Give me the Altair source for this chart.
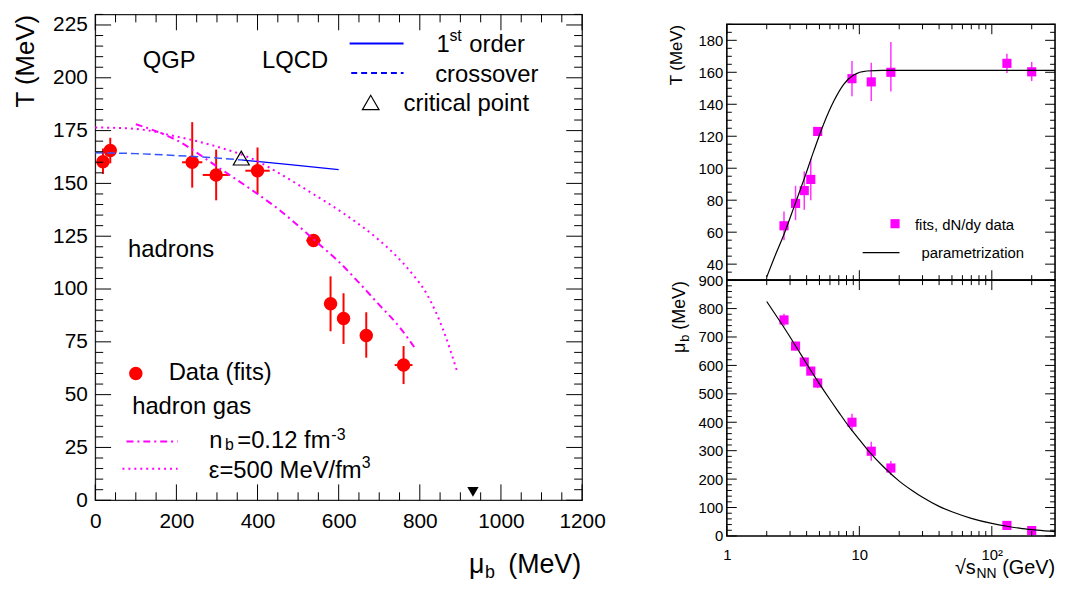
import altair as alt
import pandas as pd

FONT = "Liberation Sans"
RED, MAG, BLUE = "#ff0000", "#ff00ff", "#0000ff"

# ---------------- freeze-out fits ----------------
sqrt_s = [2.7, 3.3, 3.84, 4.3, 4.85, 8.8, 12.3, 17.3, 130, 200]
T_fit = [64, 78, 86, 93, 123, 156, 154, 160, 165.6, 160.3]
T_lo = [55, 67.5, 74, 80, 121, 145, 142, 148, 159.5, 154.5]
T_hi = [73, 89, 98, 106, 125, 167, 166, 179, 171.6, 166.5]
mu_fit = [760, 668, 612, 580, 538, 400, 298, 239, 37, 19]
mu_err = [22, 15, 12, 12, 18, 30, 33, 25, 6, 5]

# ---------------- LQCD ----------------
cross_mu = [0, 100, 200, 300, 360]
cross_T = [164.5, 164.1, 163.2, 162.0, 161.1]
first_mu = [360, 480, 600]
first_T = [161.1, 158.9, 156.5]
crit_mu = [360]
crit_T = [162]

# ---------------- hadron gas curves ----------------
nb_mu = [100, 200, 300, 400, 450, 500, 550, 600, 650, 700, 750, 790]
nb_T = [178, 170.5, 158, 145, 138, 130, 121.5, 113, 103, 92.5, 82, 71.5]
eps_mu = [0, 100, 200, 300, 400, 460, 533, 615, 697, 740, 778, 819, 859, 892]
eps_T = [176.5, 175.8, 172.2, 167.4, 160.5, 154, 145.5, 135.4, 123.6, 116, 108, 97, 80, 61]
mN_mu = [931]
mN_T = [4]

# ---------------- parametrizations (right panels) ----------------
parT_s = [2.0, 2.28, 2.71, 3.22, 3.82, 4.54, 5.4, 6.42, 7.62, 9.06, 11.4, 15, 30, 100, 300]
parT_T = [32, 44, 59, 76, 93, 111, 128, 142, 152.5, 158.3, 160.8, 161.2, 161.2, 161.2, 161.2]
parmu_s = [2.0, 2.5, 3.0, 3.5, 4.0, 5.0, 6.0, 7.0, 8.5, 10, 12, 15, 20, 25, 30, 40, 50, 70, 100, 130, 170, 220, 300]
parmu_mu = [825, 757, 700, 650, 606, 535, 480, 435, 380, 339, 294, 246, 193, 160, 136, 104, 85, 62, 44, 34, 26, 20.4, 15]

# ---------------- tick values ----------------
L_x_major = [0, 200, 400, 600, 800, 1000, 1200]
L_x_minor = [v for v in range(50, 1200, 50) if v % 200]
L_y_major = [0, 25, 50, 75, 100, 125, 150, 175, 200, 225]
L_y_minor = [v for v in range(5, 231, 5) if v % 25]
R_x_major = [1, 10, 100]
R_x_minor = [2, 3, 4, 5, 6, 7, 8, 9, 20, 30, 40, 50, 60, 70, 80, 90, 200]
RT_y_major = [40, 60, 80, 100, 120, 140, 160, 180]
RT_y_minor = [v for v in range(35, 191, 5) if v % 20]
RB_y_major = [0, 100, 200, 300, 400, 500, 600, 700, 800, 900]
RB_y_minor = [v for v in range(20, 900, 20) if v % 100]

# ---------------- annotation text (left panel) ----------------
ann_text = ["QGP", "LQCD", "hadrons", "1", "order", "crossover", "critical point",
            "Data (fits)", "hadron gas", "n", "=0.12 fm", "\u03b5=500 MeV/fm"]
ann_mu = [117, 411, 81, 841, 922, 838, 760, 181, 91, 281, 350, 280]
ann_T = [204.7, 204.4, 115, 212, 212, 197.9, 184.5, 57, 40.7, 24.6, 24.6, 10.6]
sub_text = ["st", "b", "-3", "3"]
sub_mu = [873, 320, 582, 657]
sub_T = [217.5, 23.6, 28.7, 15.3]

# ---------------- legend samples (left panel) ----------------
leg_solid_mu = [627, 760]
leg_solid_T = [216.2, 216.2]
leg_dash_mu = [631, 760]
leg_dash_T = [202.3, 202.3]
leg_tri_mu = [679]
leg_tri_T = [188.3]
leg_dot_mu = [100]
leg_dot_T = [60]
leg_nb_mu = [77, 203]
leg_nb_T = [27.8, 27.8]
leg_eps_mu = [67, 203]
leg_eps_T = [14.9, 14.9]

# right-panel legend
legR_sq_s = [18.6]
legR_sq_T = [65.3]
legR_line_s = [10.6, 20.1]
legR_line_T = [47.2, 47.2]
legR_text = ["fits, dN/dy data", "parametrization"]
legR_text_s = [26.3, 29.5]
legR_text_T = [64.7, 46.7]

fits = pd.DataFrame({
    "s": sqrt_s, "T": T_fit, "Tlo": T_lo, "Thi": T_hi, "mu": mu_fit,
    "mulo": [m - e for m, e in zip(mu_fit, mu_err)],
    "muhi": [m + e for m, e in zip(mu_fit, mu_err)],
})

# ---------------- geometry ----------------
WL, HL = 491, 490
WR, HR = 331, 258
GAP = 146  # from the left frame's right edge to the right frames' left edge


def df2(a, b):
    return pd.DataFrame({"a": a, "b": b})


class Panel:
    def __init__(self, xs, ys, ax, ay, W, H):
        self.xs, self.ys, self.ax, self.ay, self.W, self.H = xs, ys, ax, ay, W, H

    def X(self, f):
        return alt.X(f, type="quantitative", scale=self.xs, axis=self.ax)

    def Y(self, f):
        return alt.Y(f, type="quantitative", scale=self.ys, axis=self.ay)

    def xticks(self, vals, length, width=1.0):
        d = pd.DataFrame({"tv": vals})
        base = alt.Chart(d).mark_rule(color="black", strokeWidth=width)
        return [
            base.encode(x=self.X("tv"), y=alt.value(self.H), y2=alt.value(self.H - length)),
            base.encode(x=self.X("tv"), y=alt.value(0), y2=alt.value(length)),
        ]

    def yticks(self, vals, length, width=1.0):
        d = pd.DataFrame({"tv": vals})
        base = alt.Chart(d).mark_rule(color="black", strokeWidth=width)
        return [
            base.encode(y=self.Y("tv"), x=alt.value(0), x2=alt.value(length)),
            base.encode(y=self.Y("tv"), x=alt.value(self.W), x2=alt.value(self.W - length)),
        ]

    def line(self, a, b, color, width, dash=None, interp="monotone"):
        kw = dict(color=color, strokeWidth=width, interpolate=interp)
        if dash:
            kw["strokeDash"] = dash
        return alt.Chart(df2(a, b)).mark_line(**kw).encode(x=self.X("a"), y=self.Y("b"))

    def point(self, a, b, **kw):
        return alt.Chart(df2(a, b)).mark_point(opacity=1, **kw).encode(x=self.X("a"), y=self.Y("b"))

    def square(self, a, b, **kw):
        return alt.Chart(df2(a, b)).mark_square(opacity=1, **kw).encode(x=self.X("a"), y=self.Y("b"))

    def text(self, t, a, b, size, align="left", baseline="alphabetic", color="black"):
        d = pd.DataFrame({"t": t, "a": a, "b": b})
        return alt.Chart(d).mark_text(font=FONT, fontSize=size, align=align,
                                      baseline=baseline, color=color).encode(
            x=self.X("a"), y=self.Y("b"), text="t:N")


def ptext(t, px, py, size, align="left", angle=0):
    kw = dict(font=FONT, fontSize=size, align=align, baseline="alphabetic", color="black")
    if angle:
        kw["angle"] = angle
    return alt.Chart(pd.DataFrame({"t": [t]})).mark_text(**kw).encode(
        text="t:N", x=alt.value(px), y=alt.value(py))


# ================= LEFT PANEL =================
axL_x = alt.Axis(values=L_x_major, ticks=False, domain=False, grid=False, labelFont=FONT,
                 labelFontSize=21, labelPadding=10, labelFlush=False, labelOverlap=False,
                 labelColor="black", title=None, format="d")
axL_y = alt.Axis(values=L_y_major, ticks=False, domain=False, grid=False, labelFont=FONT,
                 labelFontSize=21, labelPadding=8, labelColor="black", labelOverlap=False,
                 title="T (MeV)", titleFont=FONT, titleFontSize=26, titleFontWeight="normal",
                 titleAnchor="end", titlePadding=14, titleColor="black")
PL = Panel(alt.Scale(domain=[0, 1200], nice=False, zero=False),
           alt.Scale(domain=[0, 230], nice=False, zero=False), axL_x, axL_y, WL, HL)

left_layers = [
    alt.Chart(fits).mark_rule(color=RED, strokeWidth=2).encode(
        x=PL.X("mu"), y=PL.Y("Tlo"), y2="Thi"),
    alt.Chart(fits).mark_rule(color=RED, strokeWidth=2).encode(
        x=PL.X("mulo"), x2="muhi", y=PL.Y("T")),
    alt.Chart(fits).mark_point(shape="circle", filled=True, size=185, color=RED, opacity=1).encode(
        x=PL.X("mu"), y=PL.Y("T")),
    PL.line(cross_mu, cross_T, "#3355ff", 1.5, [8, 4]),
    PL.line(first_mu, first_T, BLUE, 1.3),
    PL.line(nb_mu, nb_T, MAG, 2, [7, 4, 2, 4]),
    PL.line(eps_mu, eps_T, MAG, 2, [2, 4]),
    PL.point(crit_mu, crit_T, shape="triangle-up", filled=False, size=260, color="black", strokeWidth=1.2),
    PL.point(mN_mu, mN_T, shape="triangle-down", filled=True, size=130, color="black"),
    # legends
    PL.line(leg_solid_mu, leg_solid_T, BLUE, 2, interp="linear"),
    PL.line(leg_dash_mu, leg_dash_T, BLUE, 2, [6, 4], interp="linear"),
    PL.point(leg_tri_mu, leg_tri_T, shape="triangle-up", filled=False, size=280, color="black", strokeWidth=1.2),
    PL.point(leg_dot_mu, leg_dot_T, shape="circle", filled=True, size=185, color=RED),
    PL.line(leg_nb_mu, leg_nb_T, MAG, 2, [7, 4, 2, 4], interp="linear"),
    PL.line(leg_eps_mu, leg_eps_T, MAG, 2, [2, 4], interp="linear"),
    PL.text(ann_text, ann_mu, ann_T, 24),
    PL.text(sub_text, sub_mu, sub_T, 16),
    # x-axis title  mu_b (MeV)
    ptext("\u03bc", 377, HL + 73, 27),
    ptext("b", 393, HL + 78, 18),
    ptext("(MeV)", 490, HL + 73, 27, align="right"),
]
left_layers += PL.xticks(L_x_major, 16) + PL.xticks(L_x_minor, 8)
left_layers += PL.yticks(L_y_major, 16) + PL.yticks(L_y_minor, 8)

left = alt.layer(*left_layers).properties(
    width=WL, height=HL, view=alt.ViewBackground(stroke="#222222", strokeWidth=1.3))

# ================= RIGHT TOP =================
xR = alt.Scale(type="log", domain=[1, 300], nice=False)
axRT_x = alt.Axis(values=R_x_major, ticks=False, domain=False, grid=False, labels=False, title=None)
axRT_y = alt.Axis(values=RT_y_major, ticks=False, domain=False, grid=False, labelFont=FONT,
                  labelFontSize=15, labelPadding=4, labelColor="black", labelOverlap=False,
                  title="T (MeV)", titleFont=FONT, titleFontSize=17, titleFontWeight="normal",
                  titleAnchor="end", titlePadding=13, titleColor="black")
PT = Panel(xR, alt.Scale(domain=[30, 190], nice=False, zero=False), axRT_x, axRT_y, WR, HR)

rt_layers = [
    alt.Chart(fits).mark_rule(color=MAG, strokeWidth=1.5, opacity=0.8).encode(
        x=PT.X("s"), y=PT.Y("Tlo"), y2="Thi"),
    alt.Chart(fits).mark_square(size=85, color=MAG, opacity=1).encode(x=PT.X("s"), y=PT.Y("T")),
    PT.line(parT_s, parT_T, "black", 1.2),
    PT.square(legR_sq_s, legR_sq_T, size=85, color=MAG),
    PT.line(legR_line_s, legR_line_T, "black", 1.2, interp="linear"),
    PT.text(legR_text, legR_text_s, legR_text_T, 15, baseline="middle"),
]
rt_layers += PT.xticks(R_x_major, 10) + PT.xticks(R_x_minor, 5)
rt_layers += PT.yticks(RT_y_major, 10) + PT.yticks(RT_y_minor, 5)
right_top = alt.layer(*rt_layers).properties(
    width=WR, height=HR, view=alt.ViewBackground(stroke="black", strokeWidth=1.6))

# ================= RIGHT BOTTOM =================
axRB_x = alt.Axis(values=R_x_major, ticks=False, domain=False, grid=False, labelFont=FONT,
                  labelFontSize=15, labelPadding=12, labelFlush=False, labelOverlap=False,
                  labelColor="black", title=None,
                  labelExpr="datum.value == 100 ? '10\u00b2' : datum.label")
axRB_y = alt.Axis(values=RB_y_major, ticks=False, domain=False, grid=False, labelFont=FONT,
                  labelFontSize=15, labelPadding=4, labelColor="black", labelOverlap=False,
                  title=None)
PB = Panel(xR, alt.Scale(domain=[0, 900], nice=False, zero=False), axRB_x, axRB_y, WR, HR)

rb_layers = [
    alt.Chart(fits).mark_rule(color=MAG, strokeWidth=1.5, opacity=0.8).encode(
        x=PB.X("s"), y=PB.Y("mulo"), y2="muhi"),
    alt.Chart(fits).mark_square(size=85, color=MAG, opacity=1).encode(x=PB.X("s"), y=PB.Y("mu")),
    PB.line(parmu_s, parmu_mu, "black", 1.2),
    # y title  mu_b (MeV), rotated
    ptext("(MeV)", -42, 1, 18, align="right", angle=270),
    ptext("b", -38, 55, 13, align="right", angle=270),
    ptext("\u03bc", -42, 63, 18, align="right", angle=270),
    # x title  sqrt(s_NN) (GeV)
    ptext(" (GeV)", WR, HR + 38, 20, align="right"),
    ptext("NN", WR - 59, HR + 42, 14, align="right"),
    ptext("\u221as", WR - 80, HR + 38, 20, align="right"),
]
rb_layers += PB.xticks(R_x_major, 10) + PB.xticks(R_x_minor, 5)
rb_layers += PB.yticks(RB_y_major, 10) + PB.yticks(RB_y_minor, 5)
right_bottom = alt.layer(*rb_layers).properties(
    width=WR, height=HR, view=alt.ViewBackground(stroke="black", strokeWidth=1.6))

# blank strip: puts the right panels 10 px below the left panel's top
spacer = alt.Chart(pd.DataFrame({"t": [""]})).mark_text().encode(text="t:N").properties(
    width=WR, height=10, view=alt.ViewBackground(stroke="transparent", strokeWidth=0))

right = alt.vconcat(spacer, right_top, right_bottom, spacing=0, bounds="flush")

chart = alt.hconcat(left, right, spacing=GAP, bounds="flush").properties(
    padding={"left": 4, "top": 2, "right": 0, "bottom": 0}
).configure(font=FONT).configure_view(stroke="black")

chart.save("out.html", embed_options={"renderer": "svg", "actions": False})
